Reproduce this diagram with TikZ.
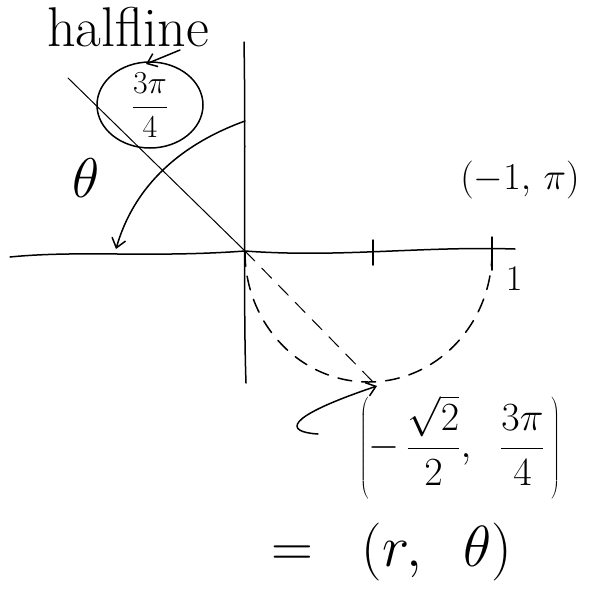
\RequirePackage{fix-cm}
\documentclass[tikz,border=0pt]{standalone}
\usetikzlibrary{arrows.meta,shapes.geometric}
\begin{document}
\begin{tikzpicture}[x=1pt,y=-1pt,
  ink/.style={line width=1.5pt,line cap=round,line join=round},
  dashstroke/.style={ink,dash pattern=on 14pt off 10pt},
  arr/.style={ink,-{Straight Barb[length=9pt,width=14pt,line width=1.5pt]}},
  hand/.style={inner sep=0pt,font=\fontsize{#1}{#1}\selectfont},
]
\useasboundingbox (0,0) rectangle (613,603);
% axes
\coordinate (O) at (245,251);
\coordinate (xl) at (10,257);
\coordinate (xr) at (515,249);
\coordinate (yt) at (244,42);
\coordinate (yb) at (246,383);
\draw[ink] (xl) .. controls (80,250) and (150,258) .. (O) .. controls (340,258) and (420,246) .. (xr);
\draw[ink] (yt) .. controls (246,150) and (243,300) .. (yb);
% ticks
\coordinate (t1a) at (373,240);
\coordinate (t1b) at (373,265);
\draw[ink] (t1a) -- (t1b);
\coordinate (t2a) at (492,237);
\coordinate (t2b) at (492,270);
\draw[ink] (t2a) -- (t2b);
% half-line
\coordinate (h1) at (68,78);
\coordinate (P) at (377,386);
\draw[ink,line width=1pt] (h1) -- (O);
\draw[dashstroke,line width=1pt] (O) -- (P);
% dashed semicircle
\coordinate (R) at (492,252);
\draw[dashstroke] (R) arc[start angle=0,end angle=180,x radius=123.5,y radius=130];
% labels
\node[hand=56] (half) at (128,27) {halfline};
\node[hand=32] (circ) at (150,105) {$\displaystyle\frac{3\pi}{4}$};
\draw[ink] (circ.center) ellipse [x radius=53, y radius=43];
\coordinate (circtop) at (146,64);
\coordinate (hs) at (180,50);
\draw[arr] (hs) -- (circtop);
\node[hand=56] (theta) at (86,178) {$\theta$};
\coordinate (ya) at (245,121);
\coordinate (xa) at (116,249);
\draw[arr] (ya) .. controls (165,150) and (130,200) .. (xa);
\node[hand=38] (m1pi) at (520,180) {$(-1,\,\pi)$};
\node[hand=36] (one) at (514,279) {$1$};
% point label
\node[hand=40] (pt) at (460,447) {$\left(-\,{\displaystyle\frac{\sqrt{2}}{2}},\;\;{\displaystyle\frac{3\pi}{4}}\,\right)$};
\coordinate (hk) at (318,434);
\draw[arr] (hk) .. controls (285,432) and (282,418) .. (P);
\node[hand=58] (rt) at (392,552) {$=\;\;(r,\;\;\theta)$};
\end{tikzpicture}
\end{document}
